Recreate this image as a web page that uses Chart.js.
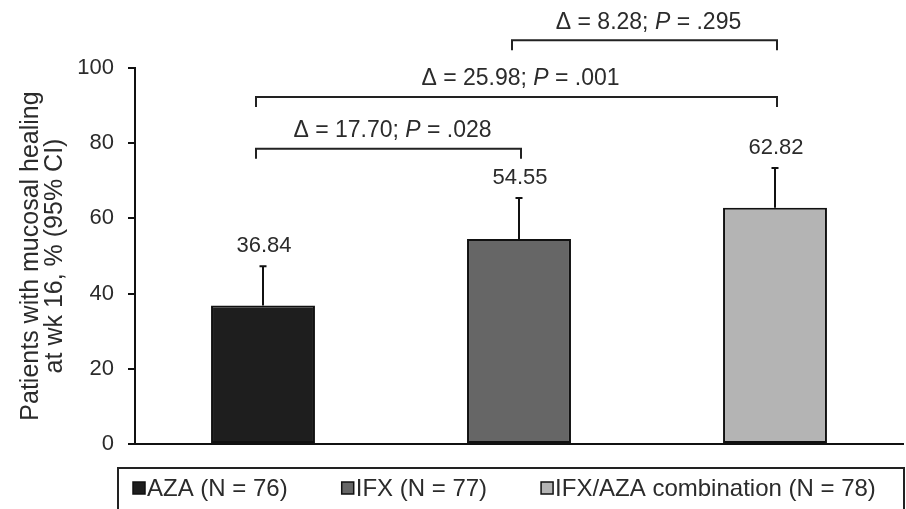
<!DOCTYPE html>
<html>
<head>
<meta charset="utf-8">
<script src="https://cdn.jsdelivr.net/npm/chart.js@4.4.1/dist/chart.umd.min.js"></script>
<style>
  html, body { margin: 0; padding: 0; background: #fff; }
  #wrap { width: 906px; height: 509px; position: relative; }
</style>
</head>
<body>
<div id="wrap"><canvas id="chartMH"></canvas></div>
<script>
// Mucosal healing at week 16 by treatment arm
const groups = ["AZA", "IFX", "IFX/AZA combination"];
const groupN = [76, 77, 78];
const healing = [36.84, 54.55, 62.82];
const ciUpper = [47.3, 65.4, 73.4];
const barColors = ["#1e1e1e", "#666666", "#b4b4b4"];

// Pairwise comparisons: from bar, to bar, delta, P, bracket level
const compFrom = [0, 0, 1];
const compTo = [1, 2, 2];
const compDelta = ["17.70", "25.98", "8.28"];
const compP = [".028", ".001", ".295"];
const compLevel = [78.5, 92.3, 107.4];

const yTicks = [0, 20, 40, 60, 80, 100];

const FONT = "'Liberation Sans', Arial, Helvetica, sans-serif";
const TEXT = "#2b2b2b";

// error bars (upper half of the CI) and value labels
const errorBars = {
    id: "errorBars",
    afterDatasetsDraw(chart) {
        const ctx = chart.ctx;
        const meta = chart.getDatasetMeta(0);
        const y = chart.scales.y;
        ctx.save();
        ctx.strokeStyle = "#111";
        ctx.lineWidth = 2;
        meta.data.forEach((bar, i) => {
            const top = y.getPixelForValue(ciUpper[i]);
            ctx.beginPath();
            ctx.moveTo(bar.x, bar.y);
            ctx.lineTo(bar.x, top);
            ctx.moveTo(bar.x - 3.5, top);
            ctx.lineTo(bar.x + 3.5, top);
            ctx.stroke();
            ctx.fillStyle = TEXT;
            ctx.font = "22px " + FONT;
            ctx.textAlign = "center";
            ctx.textBaseline = "middle";
            ctx.fillText(healing[i].toFixed(2), bar.x + 1, top - 20);
        });
        ctx.restore();
    }
};

// comparison brackets with delta / P labels
const brackets = {
    id: "brackets",
    afterDraw(chart) {
        const ctx = chart.ctx;
        const meta = chart.getDatasetMeta(0);
        const y = chart.scales.y;
        ctx.save();
        ctx.strokeStyle = "#222";
        ctx.lineWidth = 2;
        for (let i = 0; i < compFrom.length; i++) {
            const x1 = meta.data[compFrom[i]].x - 7;
            const x2 = meta.data[compTo[i]].x + 2;
            const yy = y.getPixelForValue(compLevel[i]);
            ctx.beginPath();
            ctx.moveTo(x1, yy + 10);
            ctx.lineTo(x1, yy);
            ctx.lineTo(x2, yy);
            ctx.lineTo(x2, yy + 10);
            ctx.stroke();

            // label: "Δ = d; P = p" with italic P
            const partA = "\u0394 = " + compDelta[i] + "; ";
            const partB = "P";
            const partC = " = " + compP[i];
            const normal = "23px " + FONT;
            const italic = "italic 23px " + FONT;
            ctx.font = normal;
            const wA = ctx.measureText(partA).width;
            const wC = ctx.measureText(partC).width;
            ctx.font = italic;
            const wB = ctx.measureText(partB).width;
            let x = (x1 + x2) / 2 + 4 - (wA + wB + wC) / 2;
            const ty = yy - 18;
            ctx.fillStyle = TEXT;
            ctx.textAlign = "left";
            ctx.textBaseline = "middle";
            ctx.font = normal;
            ctx.fillText(partA, x, ty);
            x += wA;
            ctx.font = italic;
            ctx.fillText(partB, x, ty);
            x += wB;
            ctx.font = normal;
            ctx.fillText(partC, x, ty);
        }
        ctx.restore();
    }
};

// boxed legend under the axis
const boxLegend = {
    id: "boxLegend",
    afterDraw(chart) {
        const ctx = chart.ctx;
        ctx.save();
        ctx.strokeStyle = "#222";
        ctx.lineWidth = 2;
        ctx.strokeRect(118, 468, 786, 60);
        ctx.font = "24px " + FONT;
        ctx.textBaseline = "middle";
        ctx.textAlign = "left";
        let x = 133;
        const cy = 488;
        groups.forEach((g, i) => {
            ctx.fillStyle = barColors[i];
            ctx.fillRect(x, cy - 6, 12, 12);
            ctx.lineWidth = 1.5;
            ctx.strokeStyle = "#111";
            ctx.strokeRect(x, cy - 6, 12, 12);
            const label = g + " (N = " + groupN[i] + ")";
            ctx.fillStyle = TEXT;
            ctx.fillText(label, x + 14, cy + 1);
            x += 14 + ctx.measureText(label).width + 54;
        });
        ctx.restore();
    }
};

new Chart(document.getElementById("chartMH").getContext("2d"), {
    type: "bar",
    data: {
        labels: groups,
        datasets: [{
            data: healing,
            backgroundColor: barColors,
            borderColor: "#111",
            borderWidth: 2,
            borderSkipped: false,
            barPercentage: 0.406,
            categoryPercentage: 1
        }]
    },
    options: {
        responsive: true,
        maintainAspectRatio: false,
        animation: false,
        layout: { padding: { top: 68, right: 3, left: 0, bottom: 0 } },
        plugins: {
            legend: { display: false },
            tooltip: { enabled: false }
        },
        scales: {
            x: {
                grid: { display: false },
                border: { display: true, color: "#111", width: 2 },
                ticks: { display: false },
                afterFit(scale) { scale.height = 65; }
            },
            y: {
                min: 0,
                max: 100,
                afterBuildTicks(scale) { scale.ticks = yTicks.map(v => ({ value: v })); },
                grid: {
                    drawOnChartArea: false,
                    drawTicks: true,
                    tickLength: 7,
                    color: "#111",
                    lineWidth: 2
                },
                border: { display: true, color: "#111", width: 2 },
                ticks: {
                    color: TEXT,
                    padding: 14,
                    font: { family: FONT, size: 22 }
                },
                title: {
                    display: true,
                    text: ["Patients with mucosal healing", "at wk 16, % (95% CI)"],
                    color: TEXT,
                    font: { family: FONT, size: 25, lineHeight: 0.96 },
                    padding: { top: 19, bottom: 0 }
                },
                afterFit(scale) { scale.width = 135; }
            }
        }
    },
    plugins: [errorBars, brackets, boxLegend]
});
</script>
</body>
</html>
